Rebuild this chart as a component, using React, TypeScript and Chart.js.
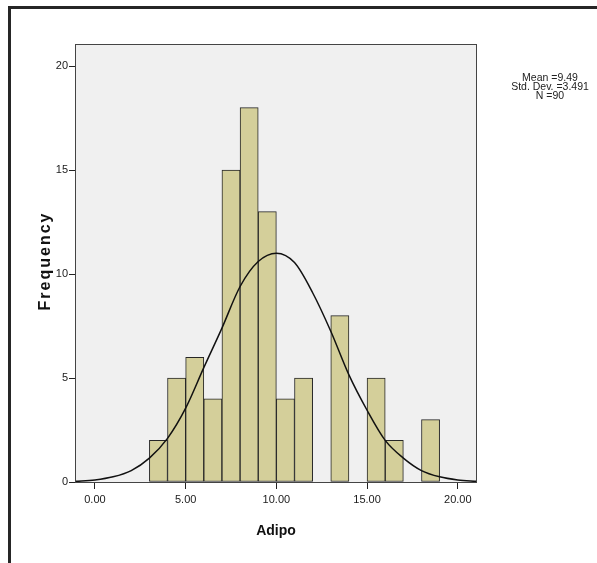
import React, { useEffect, useRef } from "react";
import { Chart, registerables } from "chart.js";

Chart.register(...registerables);

// Histogram bins (lower edge of each 1-unit bin) and counts
const BIN_STARTS = [3, 4, 5, 6, 7, 8, 9, 10, 11, 12, 13, 14, 15, 16, 17, 18];
const COUNTS = [2, 5, 6, 4, 15, 18, 13, 4, 5, 0, 8, 0, 5, 2, 0, 3];

// Normal curve
const CURVE_X = [-1.1, 0, 1, 2, 3, 4, 5, 6, 7, 8, 9, 10, 11, 12, 13, 14, 15, 16, 17, 18, 19, 20, 21.06];
const CURVE_Y = [0.03, 0.1, 0.25, 0.55, 1.15, 2.1, 3.55, 5.5, 7.4, 9.4, 10.6, 11.0, 10.55, 9.1, 7.25, 5.15, 3.45, 2.0, 1.15, 0.55, 0.25, 0.1, 0.03];

const X_TICKS = [0, 5, 10, 15, 20];
const Y_TICKS = [0, 5, 10, 15, 20];
const X_RANGE = [-1.1, 21.06];
const Y_RANGE = [0, 21.06];

const STATS = ["Mean =9.49", "Std. Dev. =3.491", "N =90"];
const X_TITLE = "Adipo";
const Y_TITLE = "Frequency";

const FONT = "'Liberation Sans', Arial, sans-serif";

export default function App() {
  const ref = useRef<HTMLCanvasElement | null>(null);

  useEffect(() => {
    document.body.style.margin = "0";
    const canvas = ref.current;
    if (!canvas) return;

    const decor = {
      id: "decor",
      beforeDraw(chart: any) {
        const { ctx, chartArea: a } = chart;
        ctx.save();
        ctx.fillStyle = "#ffffff";
        ctx.fillRect(0, 0, chart.width, chart.height);
        ctx.fillStyle = "#f0f0f0";
        ctx.fillRect(a.left, a.top, a.right - a.left, a.bottom - a.top);
        // outer frame (top and left)
        ctx.fillStyle = "#262626";
        ctx.fillRect(8, 6, chart.width - 8, 3);
        ctx.fillRect(8, 6, 3, chart.height - 6);
        ctx.restore();
      },
      afterDraw(chart: any) {
        const { ctx, chartArea: a } = chart;
        ctx.save();
        ctx.strokeStyle = "#444444";
        ctx.lineWidth = 1;
        ctx.strokeRect(a.left + 0.5, a.top + 0.5, a.right - a.left - 1, a.bottom - a.top);

        ctx.fillStyle = "#111111";
        // x title
        ctx.font = `bold 14px ${FONT}`;
        ctx.textAlign = "center";
        ctx.textBaseline = "alphabetic";
        ctx.fillText(X_TITLE, 276, 535);

        // y title
        ctx.save();
        ctx.translate(49.5, 262);
        ctx.rotate(-Math.PI / 2);
        ctx.font = `bold 16px ${FONT}`;
        (ctx as any).letterSpacing = "2px";
        ctx.textAlign = "center";
        ctx.fillText(Y_TITLE, 1, 0);
        ctx.restore();

        // stats
        ctx.font = `10.5px ${FONT}`;
        ctx.fillStyle = "#222222";
        ctx.textAlign = "center";
        const ys = [80.5, 89.5, 98.5];
        STATS.forEach((s, i) => ctx.fillText(s, 550, ys[i]));
        ctx.restore();
      },
    };

    const barData = BIN_STARTS.map((s, i) => ({ x: s + 0.5, y: COUNTS[i] })).filter((d) => d.y > 0);
    const curveData = CURVE_X.map((x, i) => ({ x, y: CURVE_Y[i] }));

    const chart = new Chart(canvas, {
      type: "bar",
      data: {
        datasets: [
          {
            type: "line",
            data: curveData,
            borderColor: "#111111",
            borderWidth: 1.5,
            pointRadius: 0,
            fill: false,
            cubicInterpolationMode: "monotone",
            order: 0,
          } as any,
          {
            type: "bar",
            data: barData,
            backgroundColor: "#d4cf9a",
            borderColor: "#262626",
            borderWidth: 1,
            borderSkipped: false,
            barPercentage: 1,
            categoryPercentage: 1,
            order: 1,
          } as any,
        ],
      },
      options: {
        responsive: false,
        animation: false,
        devicePixelRatio: 1,
        layout: { padding: { left: 0, top: 44, right: 120, bottom: 0 } },
        plugins: { legend: { display: false }, tooltip: { enabled: false } },
        scales: {
          x: {
            type: "linear",
            min: X_RANGE[0],
            max: X_RANGE[1],
            offset: false,
            afterFit: (s: any) => {
              s.height = 81;
            },
            afterBuildTicks: (s: any) => {
              s.ticks = X_TICKS.map((v) => ({ value: v }));
            },
            grid: {
              offset: false,
              drawOnChartArea: false,
              drawTicks: true,
              tickLength: 7,
              tickColor: "#222222",
              tickWidth: 1,
            },
            border: { display: false },
            ticks: {
              autoSkip: false,
              maxRotation: 0,
              padding: 4,
              color: "#1a1a1a",
              font: { family: FONT, size: 11 },
              callback: (v: any) => Number(v).toFixed(2),
            },
          },
          y: {
            type: "linear",
            min: Y_RANGE[0],
            max: Y_RANGE[1],
            afterFit: (s: any) => {
              s.width = 75;
            },
            afterBuildTicks: (s: any) => {
              s.ticks = Y_TICKS.map((v) => ({ value: v }));
            },
            grid: {
              drawOnChartArea: false,
              drawTicks: true,
              tickLength: 6,
              tickColor: "#222222",
              tickWidth: 1,
            },
            border: { display: false },
            ticks: {
              padding: 1,
              color: "#1a1a1a",
              font: { family: FONT, size: 11 },
              callback: (v: any) => String(v),
            },
          },
        },
      },
      plugins: [decor],
    });

    return () => chart.destroy();
  }, []);

  return (
    <div style={{ width: 597, height: 563 }}>
      <canvas ref={ref} width={597} height={563} style={{ display: "block", width: 597, height: 563 }} />
    </div>
  );
}
